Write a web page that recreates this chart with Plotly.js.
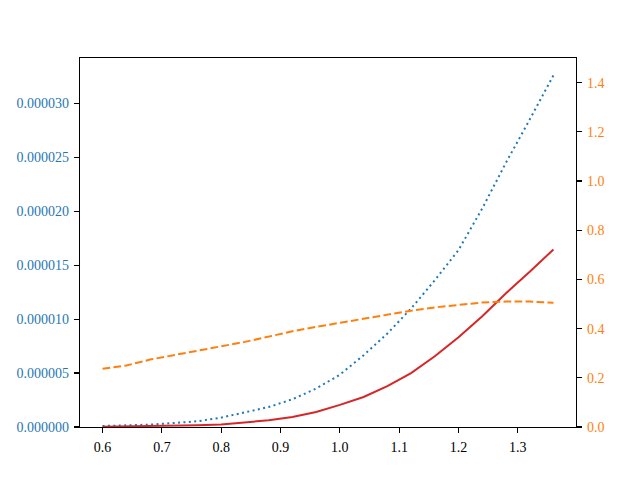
<!DOCTYPE html>
<html>
<head>
<meta charset="utf-8">
<script src="https://cdn.plot.ly/plotly-3.0.1.min.js"></script>
<style>html,body{margin:0;padding:0;background:#fff;}#chart{width:640px;height:480px;}</style>
</head>
<body>
<div id="chart"></div>
<script>
const xValues = [0.60, 0.64, 0.68, 0.72, 0.76, 0.80, 0.84, 0.88, 0.92, 0.96, 1.00, 1.04, 1.08, 1.12, 1.16, 1.20, 1.24, 1.28, 1.32, 1.36];
const blueDotted = [0.09e-6, 0.16e-6, 0.22e-6, 0.37e-6, 0.53e-6, 0.87e-6, 1.34e-6, 1.85e-6, 2.57e-6, 3.56e-6, 4.85e-6, 6.65e-6, 8.66e-6, 10.98e-6, 13.6e-6, 16.4e-6, 20.26e-6, 24.5e-6, 28.5e-6, 32.6e-6];
const redSolid = [0.03e-6, 0.05e-6, 0.08e-6, 0.12e-6, 0.17e-6, 0.24e-6, 0.40e-6, 0.62e-6, 0.93e-6, 1.39e-6, 2.05e-6, 2.78e-6, 3.78e-6, 5.0e-6, 6.56e-6, 8.32e-6, 10.27e-6, 12.4e-6, 14.38e-6, 16.46e-6];
const orangeDashed = [0.237, 0.25, 0.274, 0.291, 0.309, 0.328, 0.346, 0.369, 0.389, 0.407, 0.423, 0.44, 0.458, 0.473, 0.486, 0.497, 0.506, 0.51, 0.51, 0.505];

const font = 'Liberation Serif, DejaVu Serif, serif';
const traces = [
  {x: xValues, y: blueDotted, type: 'scatter', mode: 'lines', yaxis: 'y',
   line: {color: '#1f77b4', width: 2, dash: '2px,3.4px'}, showlegend: false},
  {x: xValues, y: orangeDashed, type: 'scatter', mode: 'lines', yaxis: 'y2',
   line: {color: '#ff7f0e', width: 2, dash: '7.7px,3.3px'}, showlegend: false},
  {x: xValues, y: redSolid, type: 'scatter', mode: 'lines', yaxis: 'y',
   line: {color: '#d62728', width: 2}, showlegend: false}
];
const layout = {
  width: 640, height: 480,
  margin: {l: 80, r: 64, t: 58, b: 53, pad: 0},
  paper_bgcolor: '#fff', plot_bgcolor: '#fff',
  font: {family: font, size: 14, color: '#000'},
  xaxis: {range: [0.562, 1.398], dtick: 0.1, tick0: 0.6, tickformat: '.1f',
    showgrid: false, zeroline: false, showline: true, linecolor: '#000', linewidth: 1.1, mirror: true,
    ticks: 'outside', ticklen: 5, tickwidth: 1.1, tickcolor: '#000', ticklabelstandoff: 2},
  yaxis: {range: [0, 3.42e-5], dtick: 5e-6, tick0: 0, tickformat: '.6f',
    showgrid: false, zeroline: false, showline: true, linecolor: '#000', linewidth: 1.1,
    ticks: 'outside', ticklen: 5, tickwidth: 1.1, tickcolor: '#000',
    tickfont: {color: '#1f77b4', family: font, size: 14}, ticklabelstandoff: 2},
  yaxis2: {range: [0, 1.5], dtick: 0.2, tick0: 0, tickformat: '.1f', overlaying: 'y', side: 'right',
    showgrid: false, zeroline: false, showline: true, linecolor: '#000', linewidth: 1.1,
    ticks: 'outside', ticklen: 5, tickwidth: 1.1, tickcolor: '#000',
    tickfont: {color: '#ff7f0e', family: font, size: 14}, ticklabelstandoff: 2}
};
Plotly.newPlot('chart', traces, layout, {staticPlot: true, displayModeBar: false});
</script>
</body>
</html>
